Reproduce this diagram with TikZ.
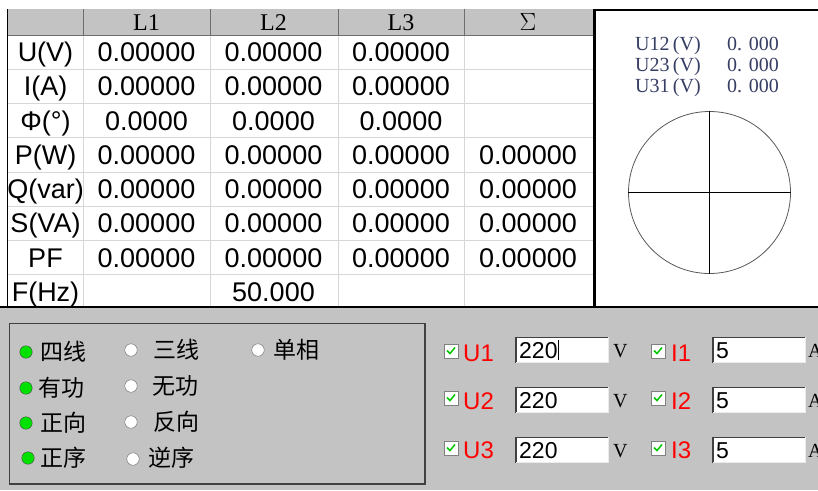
\documentclass[tikz,border=0pt]{standalone}
\usepackage{fontspec}
\setmainfont{Liberation Serif}
\newfontfamily\arialf{Liberation Sans}
\newfontfamily\cjk{Noto Sans CJK SC}
\definecolor{winbg}{RGB}{195,195,195}
\definecolor{gridc}{RGB}{215,215,215}
\definecolor{hdrline}{RGB}{110,110,110}
\definecolor{panelt}{RGB}{55,62,100}
\definecolor{rgreen}{RGB}{0,225,0}
\definecolor{cgreen}{RGB}{0,200,0}
\newcommand\tabrow[6]{%
  \pgfmathsetmacro\yy{52+34.25*#1+9.7}
  \node[cell] (lab#1) at (45.5,\yy) {#2};
  \node[cell] (ca#1) at (146.5,\yy) {#3};
  \node[cell] (cb#1) at (273.5,\yy) {#4};
  \node[cell] (cc#1) at (401,\yy) {#5};
  \node[cell] (cd#1) at (528,\yy) {#6};
}
\begin{document}
\begin{tikzpicture}[x=1pt,y=-1pt,
  cell/.style={font=\arialf\fontsize{27}{27}\selectfont, anchor=base, inner sep=0pt},
  hdr/.style={font=\fontsize{24}{24}\selectfont, anchor=base, inner sep=0pt},
  ptxt/.style={font=\fontsize{20}{20}\selectfont, text=panelt, anchor=base west, inner sep=0pt},
  radon/.style={circle, draw=black!70, fill=rgreen, minimum size=12.5pt, inner sep=0pt},
  radoff/.style={circle, draw=black!60, fill=white, minimum size=12.5pt, inner sep=0pt},
  cjkt/.style={font=\cjk\fontsize{23}{23}\selectfont, anchor=west, inner sep=0pt},
  chkbox/.style={draw=black!50, fill=white, minimum size=14pt, inner sep=0pt},
  redlab/.style={font=\arialf\fontsize{24}{24}\selectfont, text=red, anchor=base west, inner sep=0pt},
  field/.style={fill=white, minimum width=92pt, minimum height=25pt, inner sep=0pt, anchor=west},
  fieldtxt/.style={font=\arialf\fontsize{23}{23}\selectfont, anchor=west, inner sep=0pt},
  unit/.style={font=\fontsize{20}{20}\selectfont, anchor=base west, inner sep=0pt}
]
\useasboundingbox (0,0) rectangle (818,490);
\fill[white] (0,0) rectangle (818,490);
% ---------- table ----------
\fill[winbg] (8,9) rectangle (593,35);
\foreach \yl in {1,...,7} {\draw[gridc, line width=1pt] (8,{35+34.25*\yl}) -- (593,{35+34.25*\yl});}
\foreach \xl in {83,210,338,464} {
  \draw[gridc, line width=1pt] (\xl,35) -- (\xl,307);
  \draw[hdrline, line width=1pt] (\xl,9) -- (\xl,35);
}
\draw[hdrline, line width=1pt] (8,35) -- (593,35);
\draw[black, line width=1.5pt] (7.5,9) -- (7.5,307);
\node[hdr] (hl1) at (146.5,30.5) {L1};
\node[hdr] (hl2) at (273.5,30.5) {L2};
\node[hdr] (hl3) at (401,30.5) {L3};
\node[hdr] (hsum) at (528,30.5) {$\Sigma$};
\tabrow{0}{U(V)}{0.00000}{0.00000}{0.00000}{}
\tabrow{1}{I(A)}{0.00000}{0.00000}{0.00000}{}
\tabrow{2}{Φ(°)}{0.0000}{0.0000}{0.0000}{}
\tabrow{3}{P(W)}{0.00000}{0.00000}{0.00000}{0.00000}
\tabrow{4}{Q(var)}{0.00000}{0.00000}{0.00000}{0.00000}
\tabrow{5}{S(VA)}{0.00000}{0.00000}{0.00000}{0.00000}
\tabrow{6}{PF}{0.00000}{0.00000}{0.00000}{0.00000}
\tabrow{7}{F(Hz)}{}{50.000}{}{}
% ---------- right panel ----------
\draw[black, line width=2.5pt] (594.5,9) -- (594.5,307);
\draw[black, line width=2pt] (594,10) -- (818,10);
\node[ptxt] (u12) at (635,50) {U12\,(V)};
\node[ptxt] (u23) at (635,71) {U23\,(V)};
\node[ptxt] (u31) at (635,92) {U31\,(V)};
\node[ptxt] (v12) at (727,50) {0. 000};
\node[ptxt] (v23) at (727,71) {0. 000};
\node[ptxt] (v31) at (727,92) {0. 000};
\node[circle, draw=black!65, line width=0.8pt, minimum size=162pt, inner sep=0pt] (dial) at (709.5,192.5) {};
\draw[black, line width=0.9pt] (dial.west) -- (dial.east);
\draw[black, line width=0.9pt] (dial.north) -- (dial.south);
% ---------- lower area ----------
\fill[winbg] (0,307) rectangle (818,490);
\draw[black, line width=1.5pt] (0,307) -- (818,307);
\draw[black!75, line width=1.2pt] (9.5,323.5) rectangle (425,484);
% radio buttons
\node[radon] (r11) at (26,352) {};
\node[cjkt] (t11) at (40,352) {四线};
\node[radoff] (r12) at (131,350) {};
\node[cjkt] (t12) at (153,350) {三线};
\node[radoff] (r13) at (258,350) {};
\node[cjkt] (t13) at (273,350) {单相};
\node[radon] (r21) at (26,388) {};
\node[cjkt] (t21) at (38,388) {有功};
\node[radoff] (r22) at (131,386) {};
\node[cjkt] (t22) at (152,386) {无功};
\node[radon] (r31) at (26,423) {};
\node[cjkt] (t31) at (40,423) {正向};
\node[radoff] (r32) at (131,422) {};
\node[cjkt] (t32) at (153,422) {反向};
\node[radon] (r41) at (28,458) {};
\node[cjkt] (t41) at (40,458) {正序};
\node[radoff] (r42) at (133,459) {};
\node[cjkt] (t42) at (148,458) {逆序};
% check boxes, labels, fields
\foreach \n/\yc in {1/351, 2/398, 3/448} {
  \node[chkbox] (cbu\n) at (451,\yc) {};
  \draw[cgreen, line width=1.5pt] (cbu\n.center) ++(-4,-0.5) -- ++(3,3) -- ++(5,-6);
  \node[chkbox] (cbi\n) at (658,\yc) {};
  \draw[cgreen, line width=1.5pt] (cbi\n.center) ++(-4,-0.5) -- ++(3,3) -- ++(5,-6);
}
\node[redlab] (lu1) at (463,361) {U1};
\node[redlab] (lu2) at (463,409) {U2};
\node[redlab] (lu3) at (463,458) {U3};
\node[redlab] (li1) at (671,361) {I1};
\node[redlab] (li2) at (671,409) {I2};
\node[redlab] (li3) at (671,458) {I3};
\foreach \n/\yc in {1/350, 2/400, 3/450} {
  \node[field] (fu\n) at (516,\yc) {};
  \draw[black!75, line width=1.5pt] (fu\n.south west) -- (fu\n.north west) -- (fu\n.north east);
  \draw[black!8, line width=1pt] (fu\n.north east) -- (fu\n.south east) -- (fu\n.south west);
  \node[fieldtxt] (xu\n) at ([xshift=3pt,yshift=-1pt]fu\n.west) {220};
  \node[unit] (vu\n) at (613,\yc+7) {V};
  \node[field] (fi\n) at (713,\yc) {};
  \draw[black!75, line width=1.5pt] (fi\n.south west) -- (fi\n.north west) -- (fi\n.north east);
  \draw[black!8, line width=1pt] (fi\n.north east) -- (fi\n.south east) -- (fi\n.south west);
  \node[fieldtxt] (xi\n) at ([xshift=3pt,yshift=-1pt]fi\n.west) {5};
  \node[unit] (ai\n) at (808,\yc+7) {A};
}
\node[fill=black, minimum width=1pt, minimum height=20pt, inner sep=0pt] (cursor) at (558,350) {};
\end{tikzpicture}
\end{document}
